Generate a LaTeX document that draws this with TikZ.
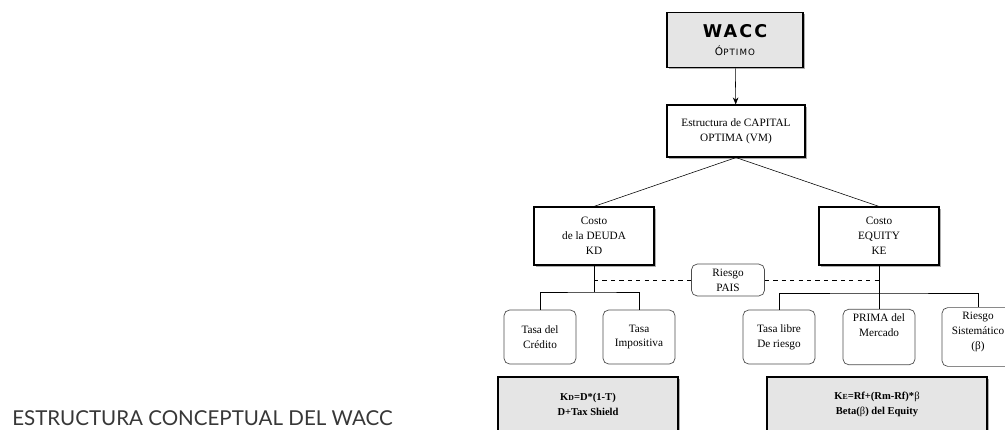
\documentclass[tikz,border=0pt]{standalone}
\usepackage{fontspec}
\setmainfont{Liberation Serif}
\newfontfamily\waccfont[LetterSpace=12]{DejaVu Sans}
\newfontfamily\titlefont{Lato}
\usepackage{tikz}
\usetikzlibrary{positioning, arrows.meta, shadows}
\definecolor{boxgray}{RGB}{229, 229, 229}
\definecolor{titlegray}{RGB}{55, 55, 55}

\begin{document}
\begin{tikzpicture}[
    x=0.025cm, y=-0.025cm,
    shadowed/.style={
        drop shadow={shadow xshift=1.3pt, shadow yshift=-1.3pt, opacity=0.45, fill=black!70}
    },
    headbox/.style={
        rectangle,
        draw=black,
        fill=boxgray,
        line width=1.3pt,
        align=center,
        minimum width=3.4cm,
        minimum height=1.375cm,
        shadowed
    },
    plainbox/.style={
        rectangle,
        draw=black,
        fill=white,
        line width=0.8pt,
        align=center,
        font=\fontsize{8}{10.6}\selectfont,
        shadowed
    },
    costbox/.style={
        plainbox,
        minimum width=3cm,
        minimum height=1.45cm
    },
    leafbox/.style={
        rectangle,
        draw=black!70,
        line width=0.5pt,
        rounded corners=4pt,
        align=center,
        minimum width=1.8cm,
        minimum height=1.35cm,
        font=\fontsize{8}{10.6}\selectfont
    },
    formulabox/.style={
        headbox,
        minimum height=1.35cm,
        font=\fontsize{7.5}{10.6}\selectfont\bfseries
    },
    arrow/.style={
        thin,
        -{Stealth[length=5pt, width=4pt]}
    }
]

\clip (0,0) rectangle (1005,429);

% Nodes
\node (wacc) [headbox] at (735,40) {{\waccfont\bfseries\fontsize{12.5}{14}\selectfont WACC} \\[1pt] {\waccfont\fontsize{7.5}{8}\selectfont Ó\fontsize{6.2}{7}\selectfont PTIMO}};
\node (estructura) [plainbox, minimum width=3.45cm, minimum height=1.3cm] at (736,131) {Estructura de CAPITAL \\ OPTIMA (VM)};

\node (kd) [costbox] at (594,236) {Costo \\ de la DEUDA \\ KD};
\node (equity) [costbox] at (879,236) {Costo \\ EQUITY \\ KE};
\node (pais) [leafbox, minimum width=1.825cm, minimum height=0.725cm] at (728,280) {Riesgo \\ PAIS};

\node (credito) [leafbox] at (540,337) {Tasa del \\ Crédito};
\node (impositiva) [leafbox] at (639,337) {Tasa \\ Impositiva};
\node (libre) [leafbox] at (779,337) {Tasa libre \\ De riesgo};
\node (prima) [leafbox] at (879,337) {PRIMA del \\ Mercado \\[6pt]};
\node (sistematico) [leafbox] at (978,337) {Riesgo \\ Sistemático \\ (β) \\[-2pt]};

\node (kdformula) [formulabox, minimum width=4.5cm] at (588,404) {K{\fontsize{5.5}{6}\selectfont D}=D*(1-T) \\ D+Tax Shield};
\node (keformula) [formulabox, minimum width=5.5cm] at (877,404) {K{\fontsize{5.5}{6}\selectfont E}=Rf+(Rm-Rf)*{\mdseries β} \\ Beta({\mdseries β}) del Equity};

\node (titulo) [anchor=base west, inner sep=0pt, text=titlegray, font=\titlefont\fontsize{14.6}{17}\selectfont] at (12,425) {ESTRUCTURA CONCEPTUAL DEL WACC};

\coordinate (kdbus) at (594,292);
\coordinate (kebus) at (879,293);

% Connections
\draw [arrow] (wacc) -- (estructura);
\draw (estructura.south) -- (kd.north);
\draw (estructura.south) -- (equity.north);

\draw (kd) -- (kdbus);
\draw (credito.north) |- (kdbus) -| (impositiva.north);
\draw (equity) -- (prima);
\draw (libre.north) |- (kebus) -| (sistematico.north);

\draw [dashed] (kd.south |- pais.west) -- (pais.west);
\draw [dashed] (pais.east) -- (equity.south |- pais.east);

\end{tikzpicture}
\end{document}
